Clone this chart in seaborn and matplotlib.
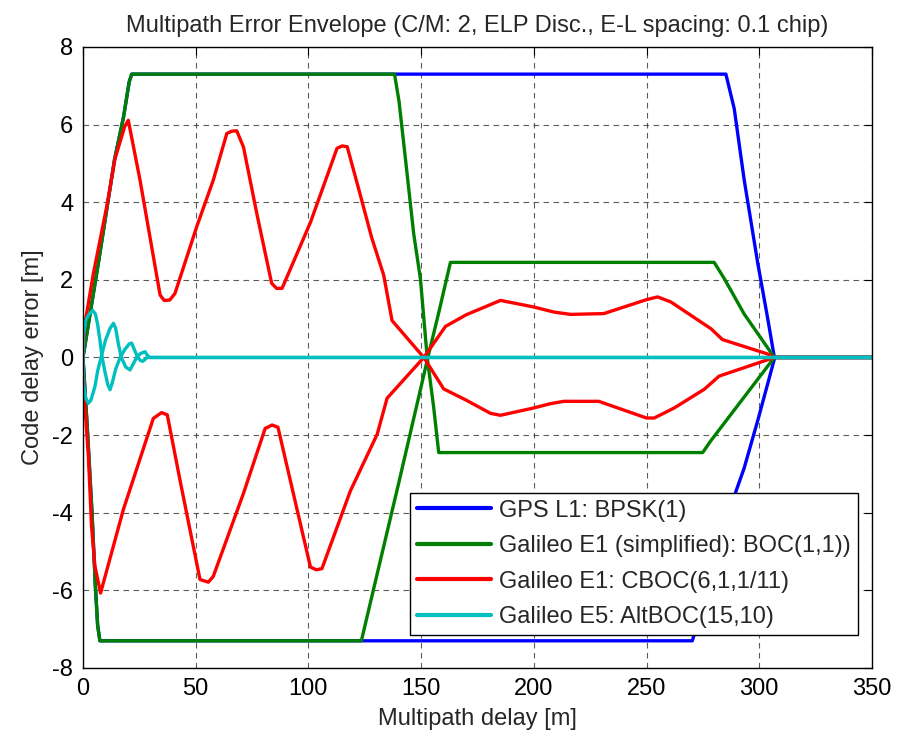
import numpy as np
import pandas as pd
import matplotlib
matplotlib.use("Agg")
import matplotlib.pyplot as plt
import seaborn as sns

# GPS L1 BPSK(1)
bpsk_up_x = [0, 7, 14, 18, 20.5, 21.6, 285.2, 288.9, 293.3, 299.3, 303.7, 306.7, 350]
bpsk_up_y = [0, 2.5, 5.1, 6.2, 7.1, 7.3, 7.3, 6.41, 4.58, 2.44, 1.02, 0, 0]
bpsk_lo_x = [0, 2, 4, 5.5, 6.5, 7.5, 270.3, 280, 289.6, 293.3, 299.3, 306.9, 350]
bpsk_lo_y = [0, -1.9, -4.0, -5.9, -6.9, -7.3, -7.3, -5.4, -3.46, -2.85, -1.63, 0, 0]

# Galileo E1 BOC(1,1)
boc_a_x = [0, 7, 14, 18, 20.5, 21.6, 138.2, 140.2, 143, 146.7, 149.7, 152.7, 155.6, 157.8,
           274.9, 278.6, 293.3, 306.7, 350]
boc_a_y = [0, 2.5, 5.1, 6.2, 7.1, 7.3, 7.3, 6.6, 5.14, 3.19, 2.02, 0, -1.3, -2.45,
           -2.45, -2.14, -1.02, 0, 0]
boc_b_x = [0, 2, 4, 5.5, 6.5, 7.5, 123.5, 130, 140, 150, 153, 158, 163, 280, 284.5, 293.3, 306.7, 350]
boc_b_y = [0, -1.9, -4.0, -5.9, -6.9, -7.3, -7.3, -5.7, -3.25, -0.75, 0, 1.2, 2.45, 2.45,
           2.03, 1.12, 0, 0]

# Galileo E1 CBOC(6,1,1/11)
cboc_up_x = [0, 0.9, 4.6, 10.5, 14.2, 18.5, 20.1, 25.3, 34.2, 36, 38.5, 40.8, 50.4, 57.8,
             63.8, 66, 68.2, 71.2, 77.1, 83.7, 85.9, 88.3, 100.9, 112.7, 115, 117.2, 123.1,
             128, 133.4, 137.1, 151.2, 160.8, 170, 185.2, 200, 208.9, 216.3, 231, 250, 254.9,
             260.8, 278.6, 283.7, 303.7, 306.7, 350]
cboc_up_y = [0, 0.88, 2.16, 3.88, 5.12, 5.95, 6.11, 4.57, 1.61, 1.47, 1.48, 1.65, 3.36, 4.57,
             5.77, 5.83, 5.84, 5.42, 3.71, 1.91, 1.78, 1.78, 3.48, 5.39, 5.45, 5.43, 4.17,
             3.1, 2.12, 0.95, 0, 0.8, 1.1, 1.47, 1.3, 1.17, 1.11, 1.13, 1.49, 1.56,
             1.43, 0.74, 0.46, 0.09, 0, 0]
cboc_lo_x = [0, 0.9, 2.4, 3.8, 5.3, 7.8, 17.9, 31.2, 34.9, 37.4, 43, 51.9, 55.6, 57.8, 71.2,
             80.8, 83.9, 86.5, 100.9, 103.5, 106, 118.6, 130.5, 134.9, 151.2, 160, 170, 180.8,
             185.2, 200, 207.4, 213.3, 228.8, 250, 253.4, 262.3, 275.6, 282.2, 306.7, 350]
cboc_lo_y = [0, -1.27, -2.55, -4.35, -5.38, -6.07, -3.92, -1.57, -1.42, -1.48, -3.15, -5.72,
             -5.79, -5.64, -3.5, -1.83, -1.74, -1.8, -5.4, -5.47, -5.44, -3.44, -1.98, -1.05,
             0, -0.81, -1.1, -1.44, -1.49, -1.3, -1.19, -1.13, -1.13, -1.56, -1.56, -1.3,
             -0.82, -0.48, 0, 0]

# Galileo E5 AltBOC(15,10)
alt_up_x = [0, 0.3, 1.2, 2.5, 4.3, 5.5, 6.5, 7.5, 8.5, 9.5, 11, 12, 13, 14.5, 16.5, 18.5,
            20.5, 21.6, 22.8, 24.3, 25.5, 26.5, 27.5, 28.5, 350]
alt_up_y = [0, 0.6, 0.95, 1.1, 1.21, 1.12, 0.85, 0.45, 0, -0.3, -0.7, -0.83, -0.65, -0.3,
            0, 0.2, 0.35, 0.37, 0.2, 0, -0.08, -0.1, -0.05, 0, 0]
alt_lo_x = [0, 0.3, 1.2, 2.4, 3.5, 5.3, 6.5, 8, 10, 12, 13.5, 14.5, 15.7, 17, 19, 20.9, 22,
            23.8, 25.5, 27.5, 28.5, 29.5, 350]
alt_lo_y = [0, -0.7, -1.05, -1.18, -1.1, -0.75, -0.35, 0, 0.45, 0.75, 0.88, 0.75, 0.35, 0,
            -0.25, -0.32, -0.2, 0, 0.1, 0.15, 0.06, 0, 0]

labels = ["GPS L1: BPSK(1)", "Galileo E1 (simplified): BOC(1,1))",
          "Galileo E1: CBOC(6,1,1/11)", "Galileo E5: AltBOC(15,10)"]
colors = ["#0000ff", "#008000", "#ff0000", "#00bfbf"]

branches = [
    (labels[0], "a", bpsk_up_x, bpsk_up_y), (labels[0], "b", bpsk_lo_x, bpsk_lo_y),
    (labels[1], "a", boc_a_x, boc_a_y), (labels[1], "b", boc_b_x, boc_b_y),
    (labels[2], "a", cboc_up_x, cboc_up_y), (labels[2], "b", cboc_lo_x, cboc_lo_y),
    (labels[3], "a", alt_up_x, alt_up_y), (labels[3], "b", alt_lo_x, alt_lo_y),
]
frames = []
for name, br, xs, ys in branches:
    frames.append(pd.DataFrame({"delay": xs, "error": ys, "signal": name, "branch": name + br}))
df = pd.concat(frames, ignore_index=True)

sns.set_style("white")
plt.rcParams["font.family"] = ["Liberation Sans", "DejaVu Sans"]
plt.rcParams["font.size"] = 17
plt.rcParams["axes.unicode_minus"] = False

fig = plt.figure(figsize=(9.05, 7.35), dpi=100)
ax = fig.add_axes([0.0917, 0.0912, 0.8718, 0.8449])

sns.lineplot(data=df, x="delay", y="error", hue="signal", units="branch", estimator=None,
             sort=False, hue_order=labels, palette=colors, linewidth=2.4, ax=ax)

ax.set_xlim(0, 350)
ax.set_ylim(-8, 8)
ax.set_xticks(np.arange(0, 351, 50))
ax.set_yticks(np.arange(-8, 9, 2))
ax.grid(True, color="#333333", linestyle=(0, (5, 4)), linewidth=0.8, alpha=0.8)
ax.set_axisbelow(True)
for s in ax.spines.values():
    s.set_color("black")
    s.set_linewidth(1.0)
ax.tick_params(direction="in", length=6, width=0.8, top=True, right=True,
               labelsize=17, pad=7, colors="black")
ax.set_xlabel("Multipath delay [m]", fontsize=17, labelpad=6)
ax.set_ylabel("Code delay error [m]", fontsize=17, labelpad=6)
ax.set_title("Multipath Error Envelope (C/M: 2, ELP Disc., E-L spacing: 0.1 chip)",
             fontsize=17, pad=11)

leg = ax.legend(loc="lower right", bbox_to_anchor=(0.982, 0.053), borderaxespad=0,
                fancybox=False, framealpha=1, edgecolor="black", fontsize=17,
                handlelength=3.1, handletextpad=0.35, labelspacing=0.57, borderpad=0.3)
leg.get_frame().set_linewidth(1.0)
for line in leg.get_lines():
    line.set_linewidth(3)

fig.savefig("out.png", dpi=100)
